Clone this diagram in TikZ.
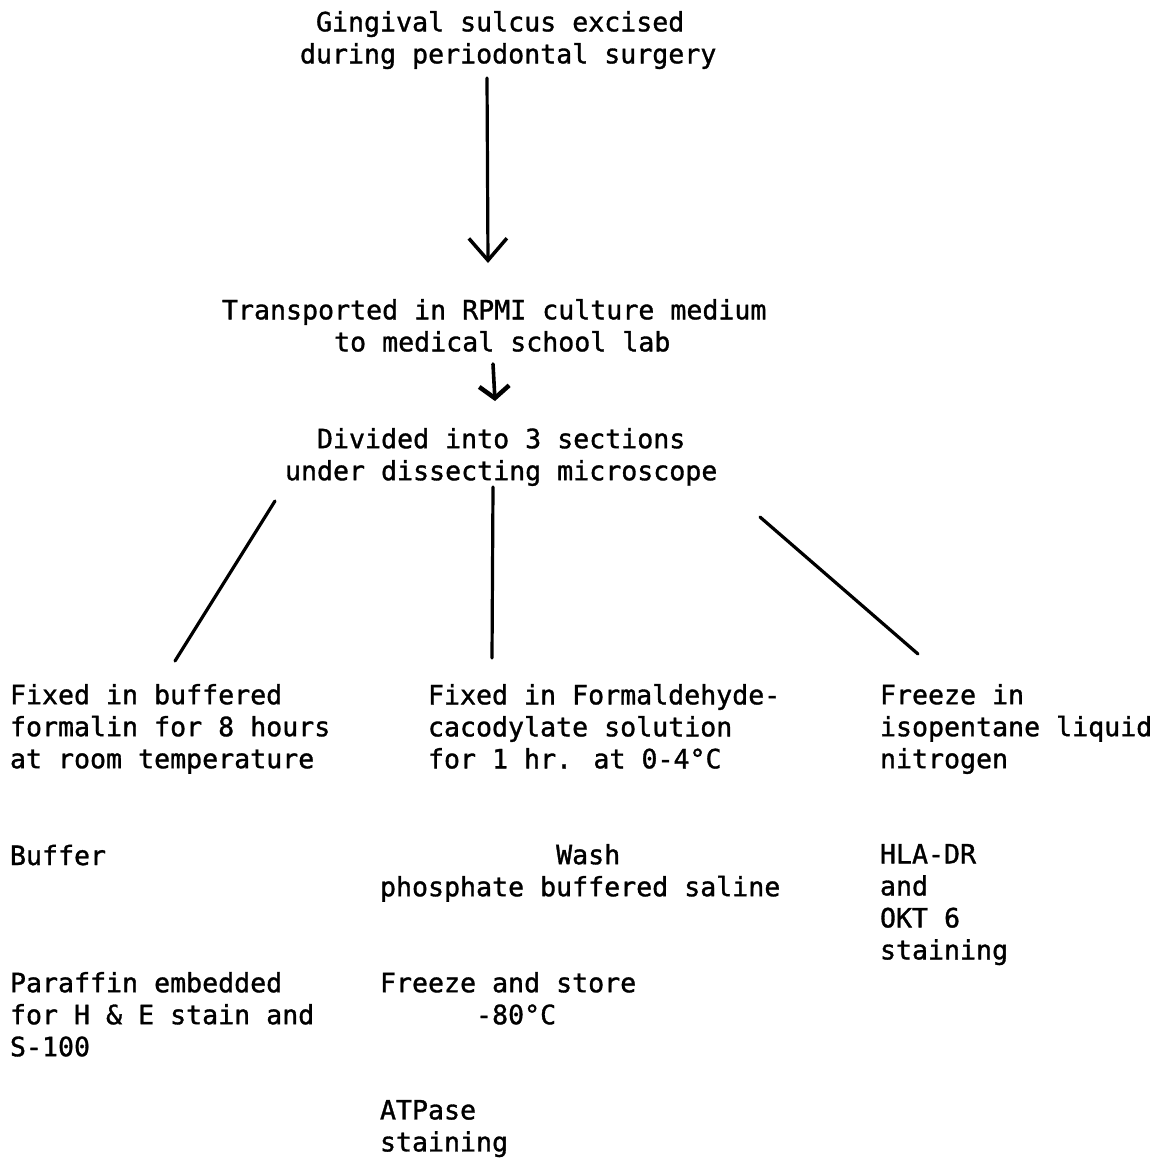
\documentclass[tikz,border=0pt]{standalone}
\usepackage{fontspec}
\newfontfamily\tw[FakeBold=1.2]{DejaVu Sans Mono}
\usetikzlibrary{arrows.meta}
\tikzset{
  txt/.style={inner sep=0pt, outer sep=0pt, align=left, anchor=north west,
    font=\tw\fontsize{26.6pt}{32pt}\selectfont,
    execute at begin node={\rule{0pt}{21pt}}},
  conn/.style={line width=3.2pt, line cap=round, line join=round},
  arr/.style={conn, -{Straight Barb[length=22pt,width=38pt,line width=3.5pt]}},
  arrs/.style={conn, line width=3.6pt, -{Straight Barb[length=12pt,width=30pt,line width=4.5pt]}}
}
\begin{document}
\begin{tikzpicture}[x=1pt,y=-1pt]
\useasboundingbox (0,0) rectangle (1167,1160);
% blocks (top = baseline - 21)
\node[txt] (title) at (300,11) {~Gingival sulcus excised\\during periodontal surgery};
\node[txt] (transp) at (222,299) {Transported in RPMI culture medium\\~~~~~~~to medical school lab};
\node[txt] (divided) at (285,428) {~~Divided into 3 sections\\under dissecting microscope};
\node[txt] (fixa) at (10,684) {Fixed in buffered\\formalin for 8 hours\\at room temperature};
\node[txt] (fixb) at (428,684) {Fixed in Formaldehyde-\\cacodylate solution\\for 1 hr. at 0-4°C};
\node[txt] (frz) at (880,684) {Freeze in\\isopentane liquid\\nitrogen};
\node[txt] (buf) at (10,844) {Buffer};
\node[txt] (wash) at (380,844) {~~~~~~~~~~~Wash\\phosphate buffered saline};
\node[txt] (hla) at (880,844) {HLA-DR\\and\\OKT 6\\staining};
\node[txt] (par) at (10,972) {Paraffin embedded\\for H \& E stain and\\S-100};
\node[txt] (fst) at (380,972) {Freeze and store\\~~~~~~-80°C};
\node[txt] (atp) at (380,1100) {ATPase\\staining};
% connector ends
\coordinate (a1s) at (487,78);
\coordinate (a1e) at (488,263);
\coordinate (a2s) at (493,364);
\coordinate (a2e) at (495,401);
\coordinate (l1s) at (275,501);
\coordinate (l1e) at (175,661);
\coordinate (l2s) at (493,487);
\coordinate (l2e) at (492,658);
\coordinate (l3s) at (760,517);
\coordinate (l3e) at (918,654);
\draw[arr] (a1s) -- (a1e);
\draw[arrs] (a2s) -- (a2e);
\draw[conn] (l1s) -- (l1e);
\draw[conn] (l2s) -- (l2e);
\draw[conn] (l3s) -- (l3e);
\end{tikzpicture}
\end{document}
